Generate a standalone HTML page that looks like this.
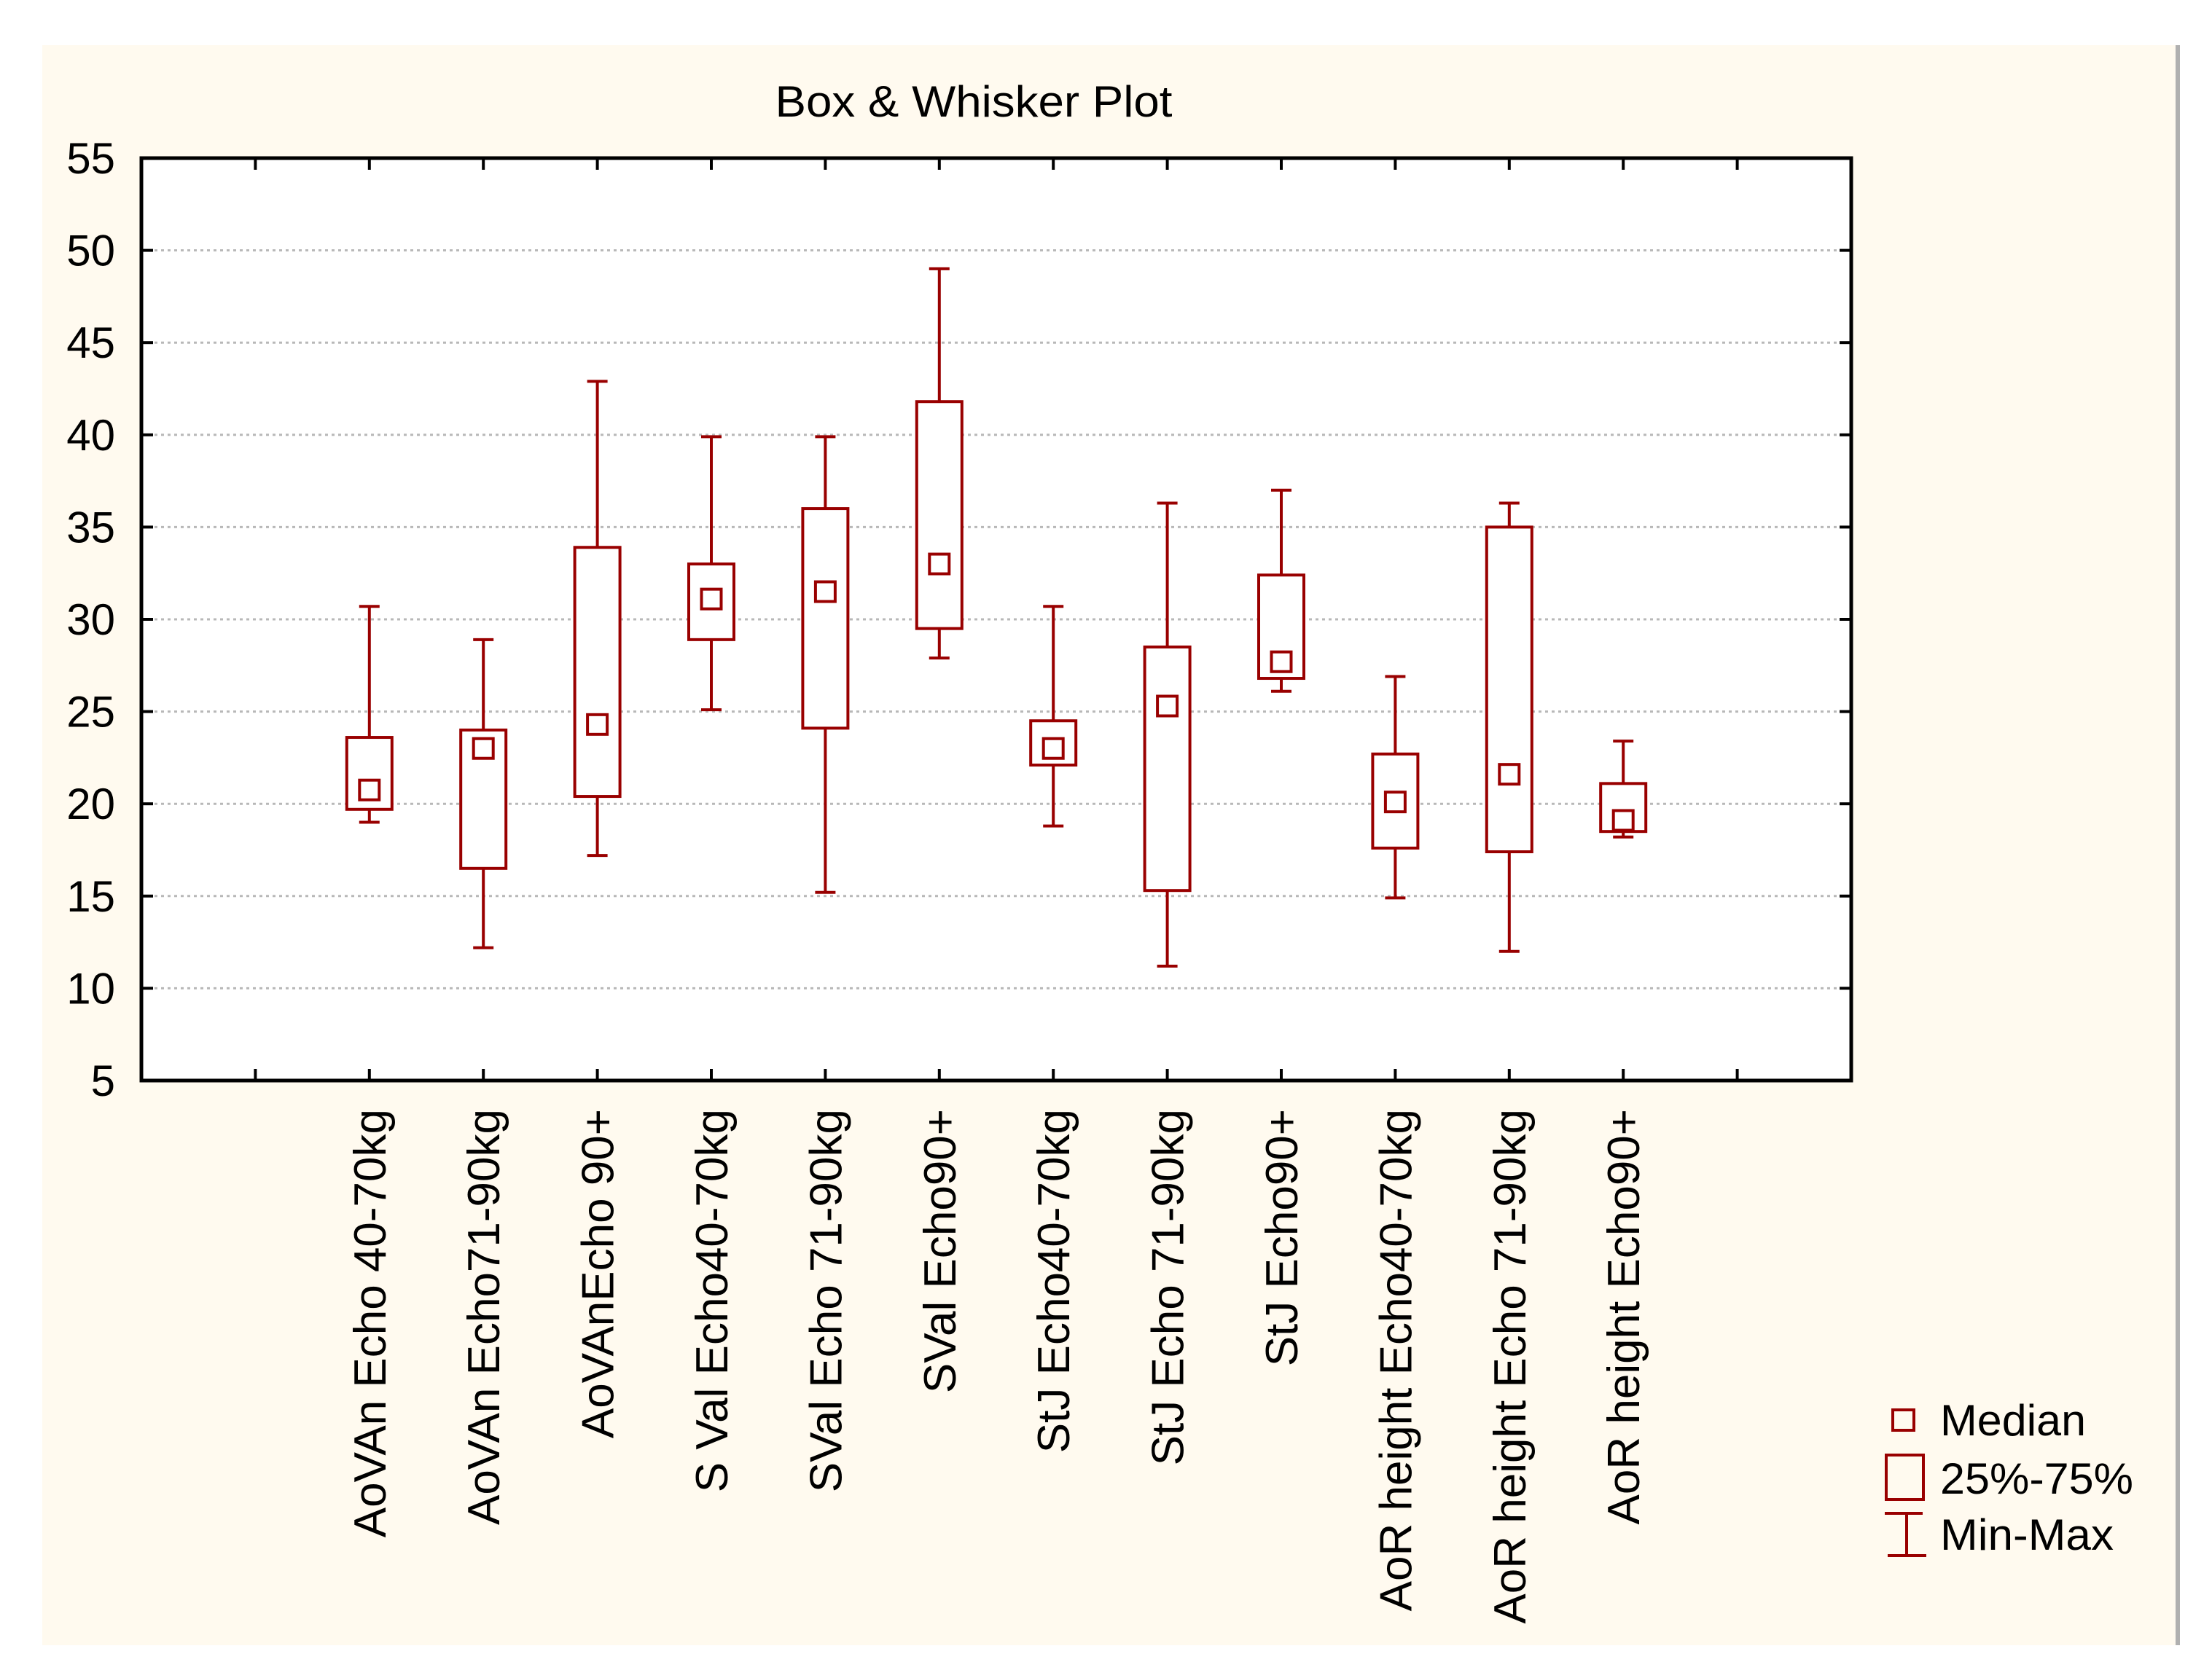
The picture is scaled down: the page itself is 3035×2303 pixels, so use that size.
<!DOCTYPE html>
<html><head><meta charset="utf-8">
<style>
html,body{margin:0;padding:0;background:#fff;}
svg{display:block;}
text{font-family:"Liberation Sans",sans-serif;fill:#000;}
</style></head>
<body>
<svg id="chart" width="3035" height="2303" viewBox="0 0 3035 2303" xmlns="http://www.w3.org/2000/svg">
  <rect x="58" y="62" width="2930" height="2196" fill="#fffaef"/>
  <rect x="2985" y="62" width="6" height="2196" fill="#b0b0b0"/>
  <text x="1336" y="160" font-size="60" text-anchor="middle" textLength="545" lengthAdjust="spacingAndGlyphs">Box &amp; Whisker Plot</text>
  <rect x="194" y="217" width="2346" height="1266" fill="#fff"/>
  <g id="grid"></g>
  <g id="marks"></g>
  <rect x="194" y="217" width="2346" height="1266" fill="none" stroke="#000" stroke-width="5"/>
  <g id="axes"></g>
  <g>
    <rect x="2597" y="1935" width="29" height="28" fill="none" stroke="#990000" stroke-width="4"/>
    <text x="2662" y="1970" font-size="60" textLength="200" lengthAdjust="spacingAndGlyphs">Median</text>
    <rect x="2588" y="1997" width="51" height="61" fill="none" stroke="#990000" stroke-width="4"/>
    <text x="2662" y="2050" font-size="60" textLength="265" lengthAdjust="spacingAndGlyphs">25%-75%</text>
    <line x1="2586" y1="2077" x2="2638" y2="2077" stroke="#990000" stroke-width="4"/>
    <line x1="2616" y1="2077" x2="2616" y2="2135" stroke="#990000" stroke-width="4"/>
    <line x1="2590" y1="2135" x2="2643" y2="2135" stroke="#990000" stroke-width="4"/>
    <text x="2662" y="2127" font-size="60" textLength="238" lengthAdjust="spacingAndGlyphs">Min-Max</text>
  </g>
</svg>
<script>
const categories = ["AoVAn Echo 40-70kg","AoVAn Echo71-90kg","AoVAnEcho 90+","S Val Echo40-70kg","SVal Echo 71-90kg","SVal Echo90+","StJ Echo40-70kg","StJ Echo 71-90kg","StJ Echo90+","AoR height Echo40-70kg","AoR height Echo 71-90kg","AoR height Echo90+"];
const maxVals = [30.7,28.9,42.9,39.9,39.9,49.0,30.7,36.3,37.0,26.9,36.3,23.4];
const q3Vals  = [23.6,24.0,33.9,33.0,36.0,41.8,24.5,28.5,32.4,22.7,35.0,21.1];
const medians = [20.75,23.0,24.3,31.1,31.5,33.0,23.0,25.3,27.7,20.1,21.6,19.1];
const q1Vals  = [19.7,16.5,20.4,28.9,24.1,29.5,22.1,15.3,26.8,17.6,17.4,18.5];
const minVals = [19.0,12.2,17.2,25.1,15.2,27.9,18.8,11.2,26.1,14.9,12.0,18.2];
const yTicks = [5,10,15,20,25,30,35,40,45,50,55];

const NS="http://www.w3.org/2000/svg";
const L=194,T=217,W=2346,H=1266,YMIN=5,YMAX=55,NDIV=15;
const C="#990000";
function yS(v){return T+H-(v-YMIN)/(YMAX-YMIN)*H;}
function xS(i){return L+(i+2)*W/NDIV;}
function mk(tag,attrs,parent){const e=document.createElementNS(NS,tag);for(const k in attrs)e.setAttribute(k,attrs[k]);parent.appendChild(e);return e;}
const grid=document.getElementById('grid'),marks=document.getElementById('marks'),axes=document.getElementById('axes');

yTicks.forEach(v=>{
  const y=yS(v);
  if(v>YMIN&&v<YMAX){
    const g=mk('line',{x1:L,y1:y,x2:L+W,y2:y,stroke:'#b8b8b8','stroke-width':3,'stroke-dasharray':'4 5'},grid);
    
    
    const tl=mk('line',{x1:L,y1:y,x2:L+16,y2:y,stroke:'#000','stroke-width':4},axes);
    
    
    const tr=mk('line',{x1:L+W-16,y1:y,x2:L+W,y2:y,stroke:'#000','stroke-width':4},axes);
    
    
  }
  const t=mk('text',{x:158,y:y+21,'font-size':60,'text-anchor':'end'},axes);
  t.textContent=v;
  
  
});

for(let k=1;k<NDIV;k++){
  const x=L+k*W/NDIV;
  const a=mk('line',{x1:x,y1:T,x2:x,y2:T+16,stroke:'#000','stroke-width':4},axes);
  
  
  const b=mk('line',{x1:x,y1:T+H-16,x2:x,y2:T+H,stroke:'#000','stroke-width':4},axes);
  
  
}

categories.forEach((c,i)=>{
  const x=xS(i);
  const g=mk('g',{},marks);
  
  
  const sw=4,bw=62,cw=28,ms=27;
  const w1=mk('line',{x1:x,y1:yS(maxVals[i]),x2:x,y2:yS(q3Vals[i]),stroke:C,'stroke-width':sw},g);
  
  
  const w2=mk('line',{x1:x,y1:yS(q1Vals[i]),x2:x,y2:yS(minVals[i]),stroke:C,'stroke-width':sw},g);
  
  
  const c1=mk('line',{x1:x-cw/2,y1:yS(maxVals[i]),x2:x+cw/2,y2:yS(maxVals[i]),stroke:C,'stroke-width':sw},g);
  
  
  const c2=mk('line',{x1:x-cw/2,y1:yS(minVals[i]),x2:x+cw/2,y2:yS(minVals[i]),stroke:C,'stroke-width':sw},g);
  
  
  const bx=mk('rect',{x:x-bw/2,y:yS(q3Vals[i]),width:bw,height:yS(q1Vals[i])-yS(q3Vals[i]),fill:'#fff',stroke:C,'stroke-width':sw},g);
  
  
  const md=mk('rect',{x:x-ms/2,y:yS(medians[i])-ms/2,width:ms,height:ms,fill:'none',stroke:C,'stroke-width':sw},g);
  
  
  const t=mk('text',{x:0,y:0,'font-size':62,'text-anchor':'end',transform:'translate('+(x+22)+',1522) rotate(-90)'},axes);
  t.textContent=c;
  
  
});
</script>
</body></html>
